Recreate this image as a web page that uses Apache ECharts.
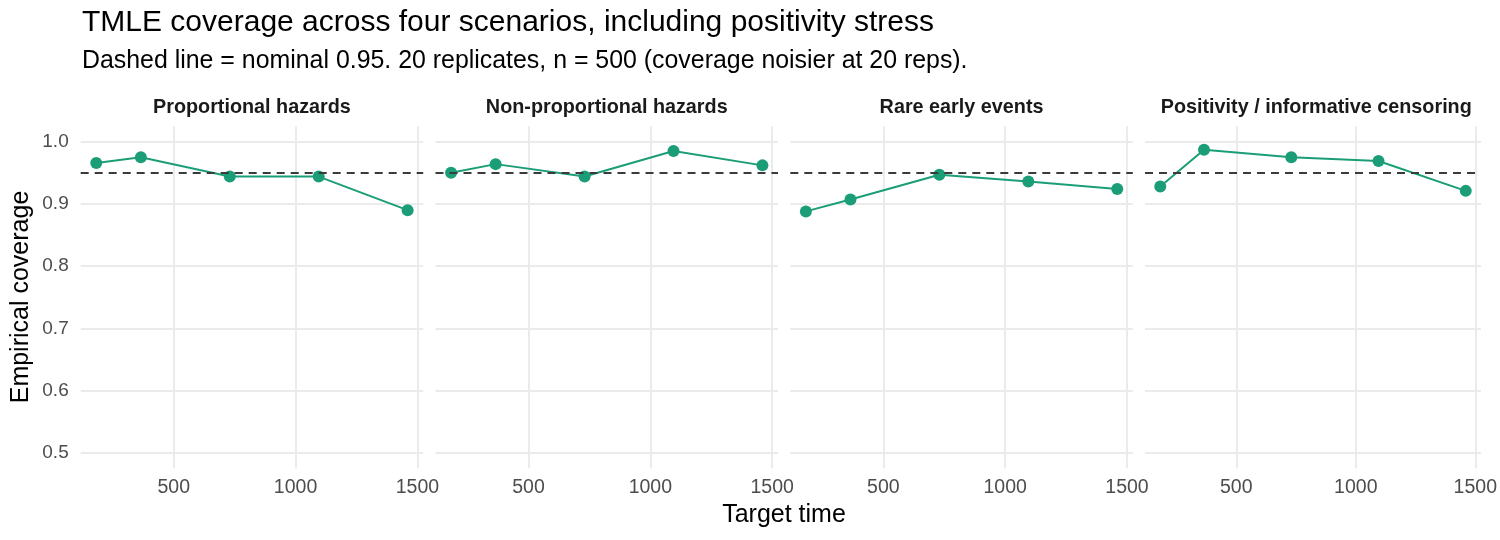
<!DOCTYPE html>
<html>
<head>
<meta charset="utf-8">
<script src="https://cdn.jsdelivr.net/npm/echarts@6/dist/echarts.min.js"></script>
<style>
  html, body { margin: 0; padding: 0; background: #fff; }
  #chart { width: 1500px; height: 540px; }
</style>
</head>
<body>
<div id="chart"></div>
<script>
// data
const scenarios = ['Proportional hazards', 'Non-proportional hazards', 'Rare early events', 'Positivity / informative censoring']
const targetTimes = [182, 365, 730, 1095, 1460]
const covPH = [0.966, 0.975, 0.944, 0.944, 0.890]
const covNPH = [0.950, 0.964, 0.944, 0.985, 0.962]
const covRare = [0.888, 0.907, 0.947, 0.936, 0.924]
const covPos = [0.928, 0.987, 0.975, 0.969, 0.921]
const nominal = 0.95
const xTicks = [500, 1000, 1500]
const yTicks = [0.5, 0.6, 0.7, 0.8, 0.9, 1.0]

const allCov = [covPH, covNPH, covRare, covPos]
const FONT = '"Liberation Sans", Arial, Helvetica, sans-serif'
const GREEN = '#1b9e77'
const GRID_LINE = '#ebebeb'

// panel layout (px)
const panelLeft = [80.7, 435.5, 790.3, 1145]
const panelWidth = 342.5
const panelTop = 126.2
const panelHeight = 342

const chart = echarts.init(document.getElementById('chart'), null, { renderer: 'canvas' })

const grids = [], xAxes = [], yAxes = [], series = [], texts = []
scenarios.forEach((name, i) => {
    grids.push({ left: panelLeft[i], top: panelTop, width: panelWidth, height: panelHeight, containLabel: false })
    xAxes.push({
        type: 'value', gridIndex: i, min: 118.1, max: 1523.9,
        axisLine: { show: false },
        axisTick: { show: false, customValues: xTicks },
        axisLabel: {
            customValues: xTicks, color: '#4d4d4d', fontSize: 19.5, fontFamily: FONT, margin: 9,
            formatter: v => String(v)
        },
        splitLine: { show: true, lineStyle: { color: GRID_LINE, width: 2 } }
    })
    yAxes.push({
        type: 'value', gridIndex: i, min: 0.475, max: 1.025,
        axisLine: { show: false },
        axisTick: { show: false, customValues: yTicks },
        axisLabel: {
            show: i === 0, customValues: yTicks, color: '#4d4d4d', fontSize: 19, fontFamily: FONT, margin: 12,
            formatter: v => v.toFixed(1)
        },
        splitLine: { show: true, lineStyle: { color: GRID_LINE, width: 2 } }
    })
    series.push({
        type: 'line', xAxisIndex: i, yAxisIndex: i,
        data: targetTimes.map((t, k) => [t, allCov[i][k]]),
        symbol: 'circle', symbolSize: 12,
        lineStyle: { color: GREEN, width: 2 },
        itemStyle: { color: GREEN },
        markLine: {
            silent: true, symbol: 'none', label: { show: false },
            lineStyle: { color: '#3b3b3b', width: 1.8, type: [8, 6] },
            data: [{ yAxis: nominal }]
        },
        z: 3
    })
    // strip label
    texts.push({
        type: 'text', x: panelLeft[i] + panelWidth / 2, y: 108,
        style: { text: name, font: 'bold 19.8px ' + FONT, fill: '#1a1a1a', align: 'center', verticalAlign: 'middle' }
    })
})

texts.push({
    type: 'text', x: 82, y: 23,
    style: { text: 'TMLE coverage across four scenarios, including positivity stress', font: '30px ' + FONT, fill: '#000', align: 'left', verticalAlign: 'middle' }
})
texts.push({
    type: 'text', x: 82, y: 61,
    style: { text: 'Dashed line = nominal 0.95. 20 replicates, n = 500 (coverage noisier at 20 reps).', font: '24.9px ' + FONT, fill: '#000', align: 'left', verticalAlign: 'middle' }
})
texts.push({
    type: 'text', x: 784, y: 515,
    style: { text: 'Target time', font: '25px ' + FONT, fill: '#000', align: 'center', verticalAlign: 'middle' }
})
texts.push({
    type: 'text', x: 21, y: 297, rotation: Math.PI / 2,
    style: { text: 'Empirical coverage', font: '25px ' + FONT, fill: '#000', align: 'center', verticalAlign: 'middle' }
})

chart.setOption({
    animation: false,
    backgroundColor: '#fff',
    grid: grids,
    xAxis: xAxes,
    yAxis: yAxes,
    series: series,
    graphic: texts
})
</script>
</body>
</html>
